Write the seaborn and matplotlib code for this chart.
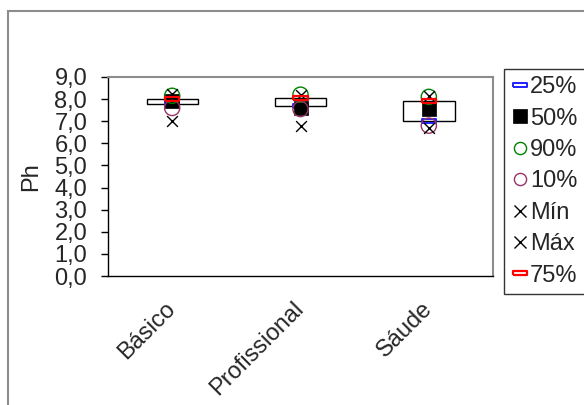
import numpy as np
import pandas as pd
import matplotlib
matplotlib.use("Agg")
import matplotlib.pyplot as plt
import seaborn as sns
from matplotlib.patches import Rectangle
from matplotlib.lines import Line2D

# ---- data ----
categories = ["Básico", "Profissional", "Sáude"]
p25 = [7.8, 7.7, 7.0]
p50 = [7.9, 7.6, 7.55]
p90 = [8.15, 8.2, 8.1]
p10 = [7.6, 7.55, 6.8]
pmin = [7.0, 6.8, 6.7]
pmax = [8.25, 8.2, 8.15]
p75 = [8.0, 8.05, 7.9]
series_names = ["25%", "50%", "90%", "10%", "Mín", "Máx", "75%"]
ytick_values = [0, 1, 2, 3, 4, 5, 6, 7, 8, 9]
ytick_labels = ["0,0", "1,0", "2,0", "3,0", "4,0", "5,0", "6,0", "7,0", "8,0", "9,0"]
y_label = "Ph"

series_values = [p25, p50, p90, p10, pmin, pmax, p75]

sns.set_theme(style="white")
plt.rcParams["font.family"] = ["Liberation Sans", "DejaVu Sans"]
FS = 17

fig = plt.figure(figsize=(5.84, 4.05), dpi=100)
fig.patch.set_facecolor("white")
ax = fig.add_axes([108 / 584, 1 - 276 / 405, 385 / 584, 199 / 405])

# outer chart frame
fig.add_artist(Rectangle((7.5 / 584, -0.1), 1.2, (405 - 11) / 405 + 0.1,
                         transform=fig.transFigure, fill=False,
                         edgecolor="#8c8c8c", lw=1.5, clip_on=False))

# floating boxes from 25% to 75%
heights = [b - a for a, b in zip(p25, p75)]
ax.bar(categories, heights, bottom=p25, width=0.4, facecolor="white",
       edgecolor="black", linewidth=1.0, zorder=2)

dash = [(-1, -0.28), (1, -0.28), (1, 0.28), (-1, 0.28), (-1, -0.28)]
styles = {
    "25%": dict(marker=dash, s=110, facecolor="none", edgecolor="#2020ff", linewidth=1.4),
    "50%": dict(marker="s", s=90, facecolor="black", edgecolor="black", linewidth=0.5),
    "90%": dict(marker="o", s=120, facecolor="none", edgecolor="#008000", linewidth=1.0),
    "10%": dict(marker="o", s=120, facecolor="none", edgecolor="#993366", linewidth=1.0),
    "Mín": dict(marker="x", s=60, color="black", linewidth=1.0),
    "Máx": dict(marker="x", s=60, color="black", linewidth=1.0),
    "75%": dict(marker=dash, s=110, facecolor="none", edgecolor="#ff0000", linewidth=1.6),
}

for i, (name, vals) in enumerate(zip(series_names, series_values)):
    df = pd.DataFrame({"cat": categories, "val": vals})
    sns.scatterplot(data=df, x="cat", y="val", ax=ax, legend=False,
                    zorder=3 + i, **styles[name])

ax.set_xlim(-0.5, 2.5)
ax.set_ylim(0, 9)
ax.set_yticks(ytick_values)
ax.set_yticklabels(ytick_labels, fontsize=FS)
ax.set_xticks([0, 1, 2])
ax.set_xticklabels(categories, fontsize=FS, rotation=45, ha="right",
                   rotation_mode="anchor", va="center")
ax.set_xticks([-0.5, 0.5, 1.5, 2.5], minor=True)
ax.tick_params(axis="x", which="major", length=0, pad=21)
ax.tick_params(axis="x", which="minor", length=5, width=1, color="black", direction="out")
ax.tick_params(axis="y", length=5, width=1, color="black", direction="out", pad=10, left=True)
ax.set_xlabel("")
ax.set_ylabel(y_label, fontsize=FS)
ax.yaxis.set_label_coords(-0.172, 0.5)
for side in ["left", "bottom"]:
    ax.spines[side].set_color("black")
    ax.spines[side].set_linewidth(1.0)
for side in ["top", "right"]:
    ax.spines[side].set_color("#8c8c8c")
    ax.spines[side].set_linewidth(1.5)
    ax.spines[side].set_visible(True)
ax.grid(False)

# legend
handles = []
for name in series_names:
    st = styles[name]
    mk = st["marker"]
    if name in ("Mín", "Máx"):
        h = Line2D([], [], linestyle="none", marker="x", markersize=8,
                   markeredgecolor="black", markeredgewidth=1.0)
    else:
        h = Line2D([], [], linestyle="none", marker=mk,
                   markersize=np.sqrt(st["s"]) * (0.8 if mk == "o" else 1.0),
                   markerfacecolor=st["facecolor"], markeredgecolor=st["edgecolor"],
                   markeredgewidth=st["linewidth"])
    handles.append(h)
leg = fig.legend(handles, series_names, loc="upper left",
                 bbox_to_anchor=(504 / 584, 1 - 69 / 405),
                 bbox_transform=fig.transFigure, borderaxespad=0,
                 fontsize=FS, frameon=True, fancybox=False,
                 borderpad=0.3, labelspacing=0.4, handlelength=0.75,
                 handletextpad=0.05)
leg.get_frame().set_edgecolor("black")
leg.get_frame().set_linewidth(1.0)

fig.savefig("out.png", dpi=100)
